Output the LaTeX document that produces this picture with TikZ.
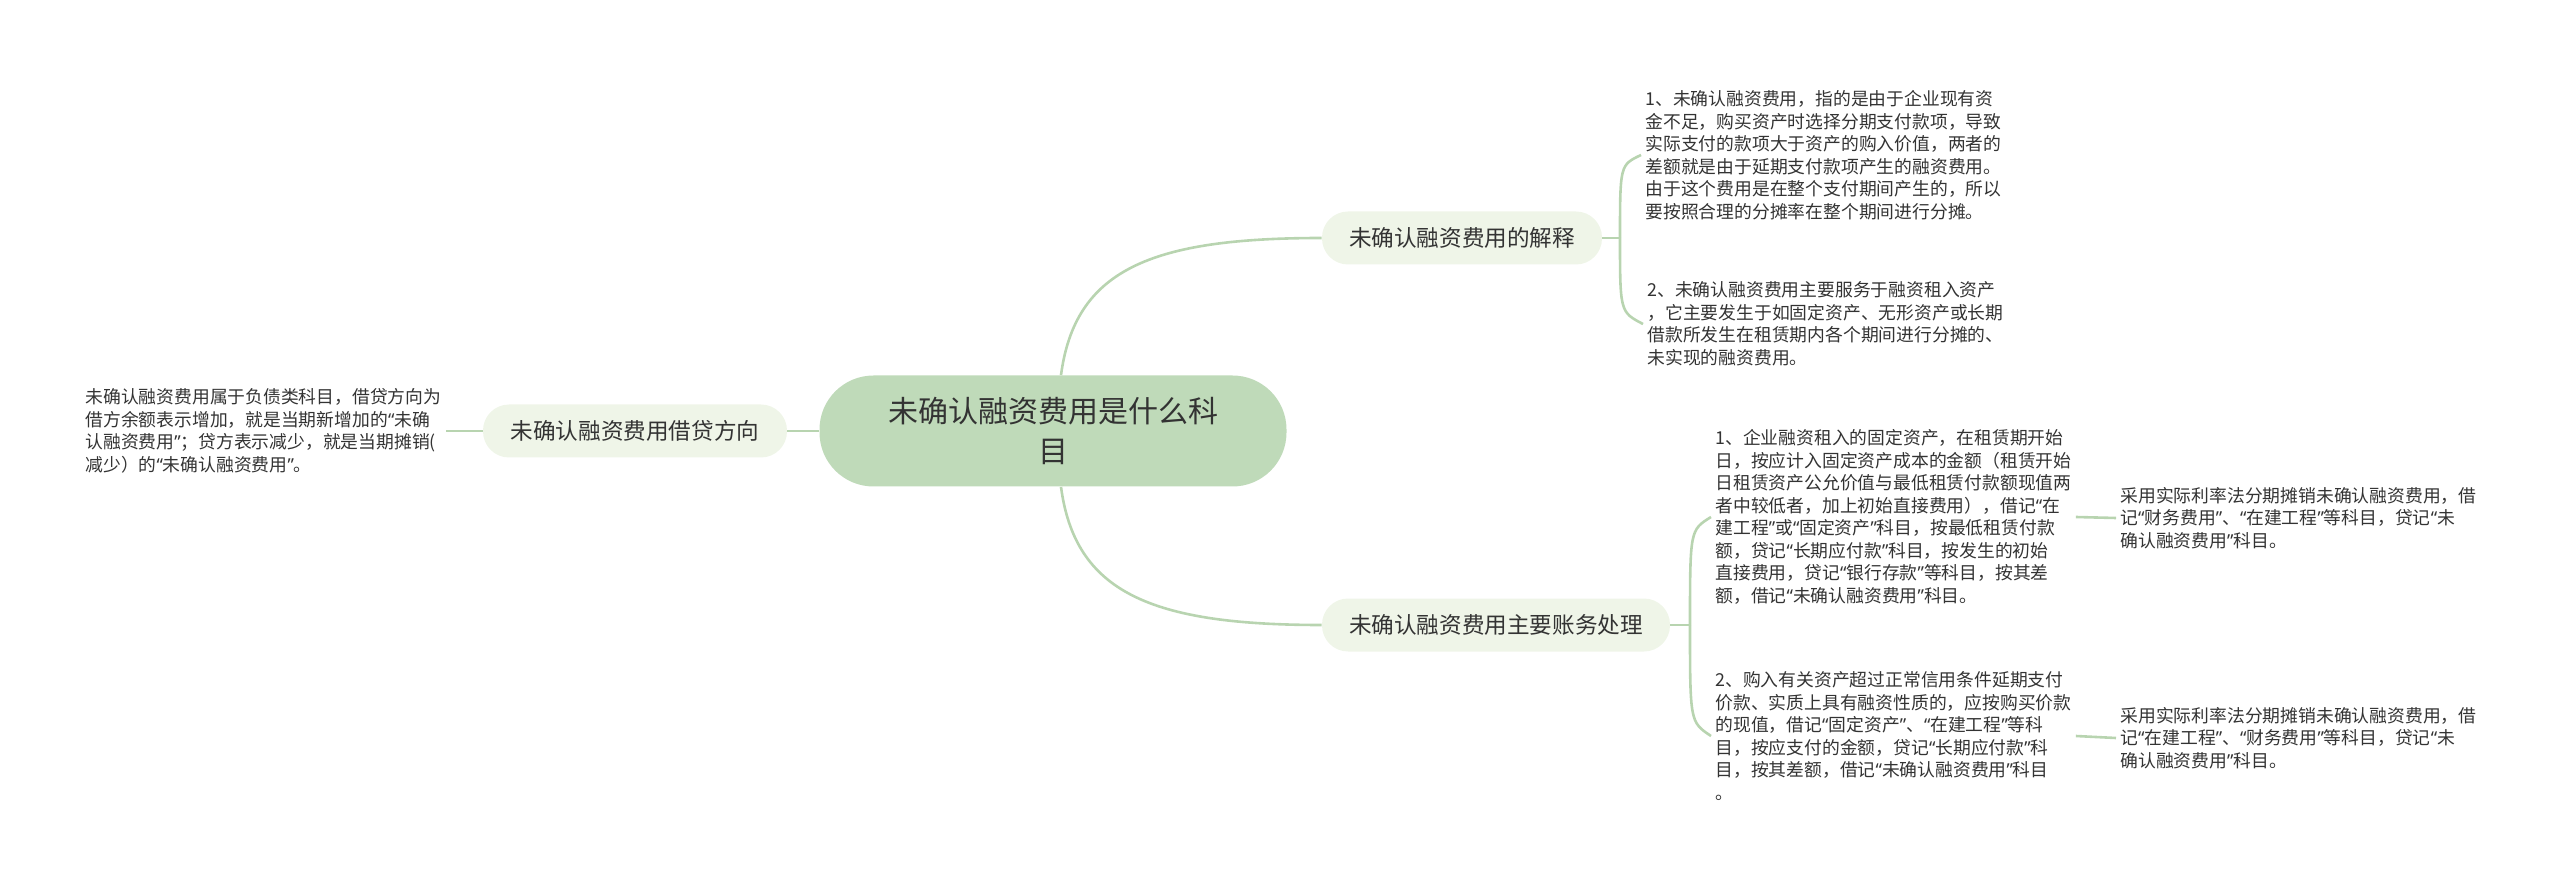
\documentclass[tikz,border=0pt]{standalone}
\usepackage{fontspec}
\setmainfont{Noto Sans CJK SC}
\newfontfamily\quotefont{Noto Sans}
\newcommand{\openq}{{\quotefont “}}
\newcommand{\closeq}{{\quotefont ”}}
\definecolor{rootfill}{HTML}{BFDAB9}
\definecolor{branchfill}{HTML}{EFF5E8}
\definecolor{linkgreen}{HTML}{B8D4B0}
\definecolor{inkgray}{HTML}{333333}
\begin{document}
\begin{tikzpicture}[x=0.5pt,y=-0.5pt,
  root/.style={fill=rootfill, rounded corners=27pt, minimum width=233.5pt, minimum height=55.5pt, align=center, font=\fontsize{15}{20}\selectfont, text=inkgray},
  branch/.style={fill=branchfill, rounded corners=13pt, minimum height=26.5pt, inner xsep=10pt, font=\fontsize{11.3}{14}\selectfont, text=inkgray},
  leaf/.style={anchor=west, align=left, inner sep=2pt, font=\fontsize{8.9}{11.25}\selectfont, text=inkgray},
  link/.style={draw=linkgreen, line width=1.3pt}]
\useasboundingbox (0,0) rectangle (2560,887);
\node[root] (c) at (1053,431) {未确认融资费用是什么科\\目};
\node[branch, minimum width=152pt] (lb) at (635,431) {未确认融资费用借贷方向};
\node[branch, minimum width=140pt] (tb) at (1462,238) {未确认融资费用的解释};
\node[branch, minimum width=174pt] (bb) at (1496,625) {未确认融资费用主要账务处理};
% leaves
\node[leaf] (lt) at (81,431) {未确认融资费用属于负债类科目，借贷方向为\\借方余额表示增加，就是当期新增加的\openq 未确\\认融资费用\closeq ；贷方表示减少，就是当期摊销(\\减少）的\openq 未确认融资费用\closeq 。};
\node[leaf] (t1) at (1641,155) {1、未确认融资费用，指的是由于企业现有资\\金不足，购买资产时选择分期支付款项，导致\\实际支付的款项大于资产的购入价值，两者的\\差额就是由于延期支付款项产生的融资费用。\\由于这个费用是在整个支付期间产生的，所以\\要按照合理的分摊率在整个期间进行分摊。};
\node[leaf] (t2) at (1643,324) {2、未确认融资费用主要服务于融资租入资产\\，它主要发生于如固定资产、无形资产或长期\\借款所发生在租赁期内各个期间进行分摊的、\\未实现的融资费用。};
\node[leaf] (t3) at (1711,517) {1、企业融资租入的固定资产，在租赁期开始\\日，按应计入固定资产成本的金额（租赁开始\\日租赁资产公允价值与最低租赁付款额现值两\\者中较低者，加上初始直接费用），借记\openq 在\\建工程\closeq 或\openq 固定资产\closeq 科目，按最低租赁付款\\额，贷记\openq 长期应付款\closeq 科目，按发生的初始\\直接费用，贷记\openq 银行存款\closeq 等科目，按其差\\额，借记\openq 未确认融资费用\closeq 科目。};
\node[leaf] (t4) at (1711,736) {2、购入有关资产超过正常信用条件延期支付\\价款、实质上具有融资性质的，应按购买价款\\的现值，借记\openq 固定资产\closeq 、\openq 在建工程\closeq 等科\\目，按应支付的金额，贷记\openq 长期应付款\closeq 科\\目，按其差额，借记\openq 未确认融资费用\closeq 科目\\。};
\node[leaf] (t5) at (2116,518) {采用实际利率法分期摊销未确认融资费用，借\\记\openq 财务费用\closeq 、\openq 在建工程\closeq 等科目，贷记\openq 未\\确认融资费用\closeq 科目。};
\node[leaf] (t6) at (2116,738) {采用实际利率法分期摊销未确认融资费用，借\\记\openq 在建工程\closeq 、\openq 财务费用\closeq 等科目，贷记\openq 未\\确认融资费用\closeq 科目。};
\coordinate (j1) at (1620,238);
\coordinate (j2) at (1690,625);
% connectors
\draw[link] ([xshift=4pt]c.north) .. controls (1075,270) and (1150,238) .. (tb.west);
\draw[link] ([xshift=4pt]c.south) .. controls (1075,592) and (1150,625) .. (bb.west);
\draw[link] (c.west) -- (lb.east);
\draw[link] (lb.west) -- (lt.east);
\draw[link] (tb.east) -- (j1);
\draw[link] (j1) .. controls (1620,165) .. (t1.west);
\draw[link] (j1) .. controls (1620,312) .. (t2.west);
\draw[link] (bb.east) -- (j2);
\draw[link] (j2) .. controls (1690,530) .. (t3.west);
\draw[link] (j2) .. controls (1690,722) .. (t4.west);
\draw[link] (t3.east) -- (t5.west);
\draw[link] (t4.east) -- (t6.west);
\end{tikzpicture}
\end{document}
